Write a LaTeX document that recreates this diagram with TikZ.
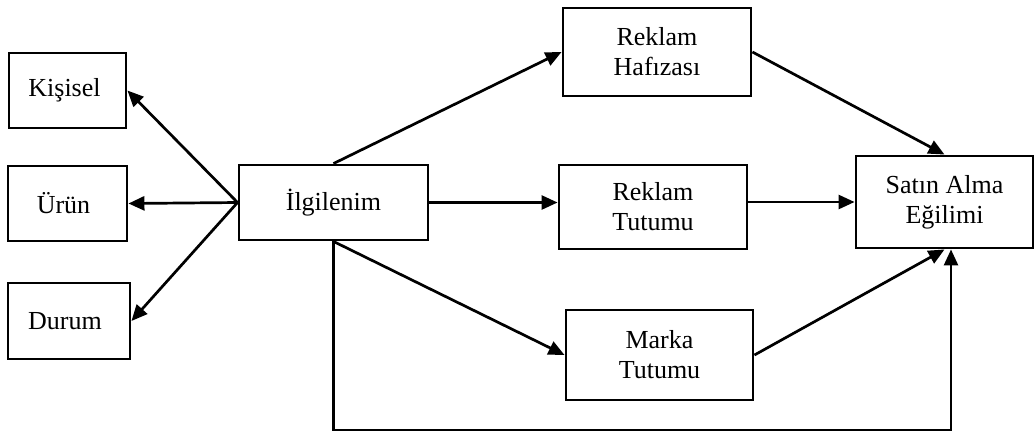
\documentclass[tikz,border=0pt]{standalone}
\usepackage{fontspec}
\setmainfont{Liberation Serif}
\usetikzlibrary{arrows.meta,calc}
\begin{document}
\begin{tikzpicture}[x=1pt,y=-1pt,
  box/.style={draw, line width=2.9pt, rectangle, align=center, inner sep=0pt,
    font=\fontsize{26}{30}\selectfont},
  arr/.style={line width=2.7pt, -{Triangle[length=16pt,width=14pt]}}]
\useasboundingbox (0,0) rectangle (1035,432);

% left-hand factors
\node[box, minimum width=117pt, minimum height=75pt] (kis) at (67.5,90.5) {Kişisel\hspace*{6pt}};
\node[box, minimum width=119pt, minimum height=75pt] (urun) at (67.5,203.5) {Ürün\hspace*{8pt}};
\node[box, minimum width=122pt, minimum height=76pt] (dur) at (69,321) {Durum\hspace*{8pt}};

% central construct
\node[box, minimum width=189pt, minimum height=75pt] (ilg) at (333.5,202.5) {İlgilenim};

% mediating constructs
\node[box, minimum width=188pt, minimum height=88pt] (haf) at (657,52) {Reklam\\Hafızası};
\node[box, minimum width=188pt, minimum height=84pt] (rtut) at (653,207) {Reklam\\Tutumu};
\node[box, minimum width=187pt, minimum height=90pt] (mtut) at (659.5,355) {Marka\\Tutumu};

% outcome
\node[box, minimum width=177pt, minimum height=92pt] (sat) at (944.5,202) {Satın Alma\\Eğilimi};

% arrows
\draw[arr] (ilg.west) -- (kis.east);
\draw[arr] (ilg.west) -- (urun.east);
\draw[arr] (ilg.west) -- (dur.east);
\draw[arr] (ilg.north) -- (haf.west);
\draw[arr] (ilg.east) -- (rtut.west |- ilg.east);
\draw[arr] (ilg.south) -- (mtut.west);
\draw[arr] (haf.east) -- (sat.north);
\draw[arr] (rtut.east |- sat.west) -- (sat.west);
\draw[arr] (mtut.east) -- (sat.south);

% direct path along the bottom
\coordinate (base) at (951,430);
\draw[arr] (ilg.south) |- (base) -- (base |- sat.south);
\end{tikzpicture}
\end{document}
